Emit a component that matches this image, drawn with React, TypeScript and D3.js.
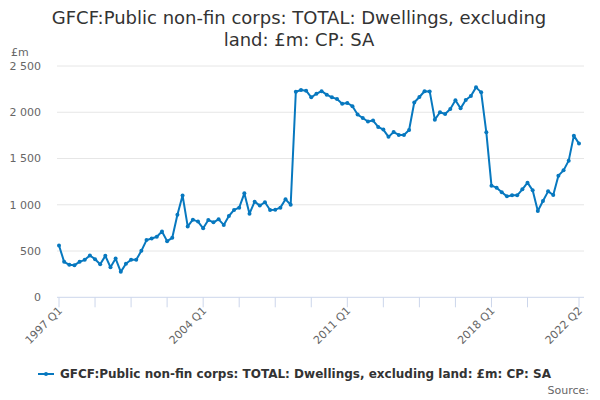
import React from "react";
import * as d3 from "d3";

// quarterly values, 1997 Q1 .. 2022 Q2 (£m)
const startYear = 1997;
const values: number[] = [
  560, 383, 351, 347, 383, 405, 452, 412, 358, 448,
  325, 419, 275, 362, 405, 405, 502, 618, 636, 654,
  711, 607, 643, 892, 1101, 766, 839, 818, 746, 836,
  810, 843, 782, 879, 944, 969, 1124, 904, 1034, 991,
  1027, 944, 947, 969, 1059, 1001, 2222, 2240, 2233, 2161,
  2200, 2228, 2190, 2162, 2142, 2093, 2100, 2066, 1975, 1938,
  1900, 1910, 1842, 1813, 1734, 1786, 1755, 1755, 1808, 2106,
  2165, 2227, 2225, 1920, 2000, 1982, 2035, 2129, 2042, 2132,
  2176, 2269, 2215, 1783, 1207, 1185, 1135, 1091, 1102, 1102,
  1167, 1239, 1156, 933, 1041, 1145, 1106, 1315, 1372, 1477,
  1747, 1661,
];
const quarters = values.map((_, i) => `${startYear + Math.floor(i / 4)} Q${(i % 4) + 1}`);

const yTicks = [0, 500, 1000, 1500, 2000, 2500];
const tickIdx = [0, 7, 14, 21, 28, 35, 42, 49, 56, 63, 70, 77, 84, 91, 101];
const labelIdx = [0, 28, 56, 84, 101];

const titleLines = ["GFCF:Public non-fin corps: TOTAL: Dwellings, excluding", "land: £m: CP: SA"];
const seriesName = "GFCF:Public non-fin corps: TOTAL: Dwellings, excluding land: £m: CP: SA";

const color = "#0778bf";
const font = "'DejaVu Sans', Verdana, sans-serif";

const locale = d3.formatLocale({ decimal: ".", thousands: " ", grouping: [3], currency: ["", ""] });
const fmt = locale.format(",");

export default function App() {
  const width = 600;
  const height = 400;
  const plotLeft = 57;
  const plotRight = 584;
  const titleX = 299;

  const x = d3.scaleLinear().domain([0, values.length - 1]).range([59, 579]);
  const y = d3.scaleLinear().domain([0, 2500]).range([297.3, 66]);

  const line = d3.line<number>()
    .x((_, i) => x(i))
    .y(d => y(d));

  return (
    <svg width={width} height={height} style={{ position: "absolute", left: 0, top: 0, background: "#fff" }}
      fontFamily={font}>
      {/* title */}
      <text x={titleX} y={24} textAnchor="middle" fontSize={18} fill="#333">
        {titleLines.map((t, i) => (
          <tspan key={i} x={titleX} dy={i === 0 ? 0 : 22}>{t}</tspan>
        ))}
      </text>

      {/* grid */}
      {yTicks.map(t => (
        <g key={t}>
          {t > 0 && <line x1={plotLeft} x2={plotRight} y1={y(t)} y2={y(t)} stroke="#e6e6e6" strokeWidth={1} />}
          <text x={41} y={y(t)} dy="0.35em" textAnchor="end" fontSize={11} fill="#666">{fmt(t)}</text>
        </g>
      ))}
      <text x={11} y={56} fontSize={11} fill="#666">£m</text>

      {/* x axis */}
      <line x1={plotLeft} x2={plotRight} y1={y(0)} y2={y(0)} stroke="#ccd6eb" strokeWidth={1} />
      {tickIdx.map(i => (
        <line key={i} x1={x(i)} x2={x(i)} y1={y(0)} y2={y(0) + 10} stroke="#ccd6eb" strokeWidth={1} />
      ))}
      {labelIdx.map(i => (
        <text key={i} transform={`translate(${x(i) + 4},${y(0) + 14}) rotate(-45)`} textAnchor="end"
          fontSize={11} fill="#666">{quarters[i]}</text>
      ))}

      {/* series */}
      <path d={line(values) ?? ""} fill="none" stroke={color} strokeWidth={2} strokeLinejoin="round" />
      {values.map((v, i) => (
        <circle key={i} cx={x(i)} cy={y(v)} r={2} fill={color} />
      ))}

      {/* legend */}
      <line x1={38} x2={54} y1={374} y2={374} stroke={color} strokeWidth={2} />
      <circle cx={46} cy={374} r={2} fill={color} />
      <text x={60} y={378} fontSize={12} fontWeight="bold" fill="#333">{seriesName}</text>

      <text x={589} y={394} textAnchor="end" fontSize={11} fill="#666">Source:</text>
    </svg>
  );
}
